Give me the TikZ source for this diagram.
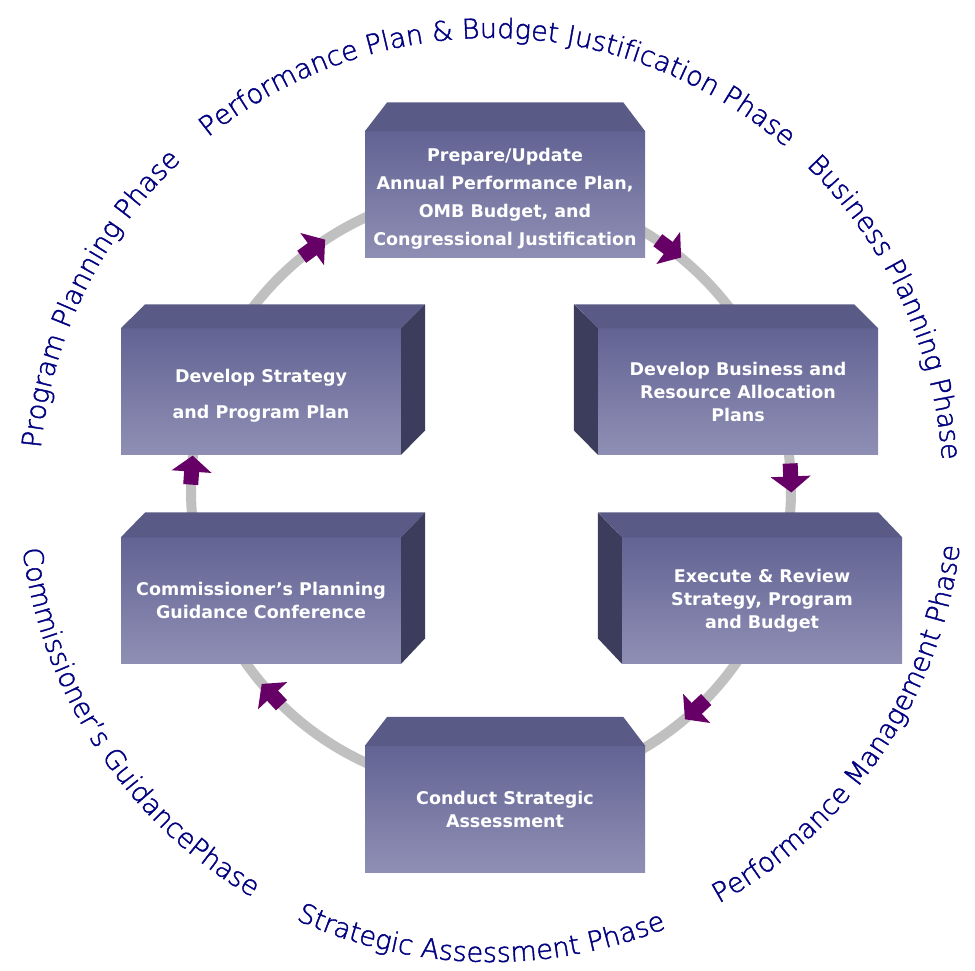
\documentclass[tikz,border=0pt]{standalone}
\usepackage{fontspec}
\usetikzlibrary{decorations.text}
\newfontfamily\arcfont[FakeBold=1.6]{DejaVu Sans ExtraLight}
\newfontfamily\boxfont{DejaVu Sans}
\definecolor{ringgray}{HTML}{C0C0C0}
\definecolor{arrowpurple}{HTML}{660066}
\definecolor{facetop}{HTML}{5A5A86}
\definecolor{faceside}{HTML}{3C3C5C}
\definecolor{gradtop}{HTML}{636394}
\definecolor{gradbot}{HTML}{8F8FB5}
\definecolor{phasenavy}{HTML}{000080}
\begin{document}
\begin{tikzpicture}[x=1pt,y=1pt,
  front/.style={minimum width=280pt, minimum height=126pt, inner sep=0pt,
    top color=gradtop, bottom color=gradbot, draw=none, text=white,
    font=\boxfont\bfseries\fontsize{17.5}{23}\selectfont, align=center},
  topface/.style={fill=facetop},
  sideface/.style={fill=faceside},
  ring/.style={draw=ringgray, line width=10pt},
  flowarrow/.style={fill=arrowpurple},
  phase/.style={decorate, decoration={text along path, text align=center,
    text={|\arcfont\fontsize{27}{27}\selectfont\color{phasenavy}|#1}}}]
\useasboundingbox (0,0) rectangle (975,970);
\coordinate (C) at (491,480);
% ring
\draw[ring] (C) circle[radius=300];
% boxes
\node[front] (top) at (505,775.5) {\rule{0pt}{8pt}\\[-10pt]Prepare/Update\\[5pt]Annual Performance Plan,\\[5pt]OMB Budget, and\\[5pt]Congressional Justification};
\fill[topface] (top.north west) -- (top.north east) -- ++(-22,29) -- ++(-236,0) -- cycle;

\node[front] (rt) at (738,578.5) {Develop Business and\\Resource Allocation\\Plans};
\fill[topface] (rt.north west) -- (rt.north east) -- ++(-24,24) -- ++(-280,0) -- cycle;
\fill[sideface] (rt.north west) -- ++(-24,24) -- ++(0,-126) -- (rt.south west) -- cycle;

\node[front] (rb) at (762,369.5) {Execute \& Review\\Strategy, Program\\and Budget};
\fill[topface] (rb.north west) -- (rb.north east) -- ++(-24,25) -- ++(-280,0) -- cycle;
\fill[sideface] (rb.north west) -- ++(-24,25) -- ++(0,-126) -- (rb.south west) -- cycle;

\node[front] (lt) at (261,578.5) {\rule{0pt}{8pt}\\[-10pt]Develop Strategy\\[13pt]and Program Plan};
\fill[topface] (lt.north west) -- (lt.north east) -- ++(24,24) -- ++(-280,0) -- cycle;
\fill[sideface] (lt.north east) -- ++(24,24) -- ++(0,-126) -- (lt.south east) -- cycle;

\node[front] (lb) at (261,369.5) {Commissioner’s Planning\\Guidance Conference};
\fill[topface] (lb.north west) -- (lb.north east) -- ++(24,25) -- ++(-280,0) -- cycle;
\fill[sideface] (lb.north east) -- ++(24,25) -- ++(0,-126) -- (lb.south east) -- cycle;

\node[front] (bot) at (505,161) {Conduct Strategic\\Assessment};
\fill[topface] (bot.north west) -- (bot.north east) -- ++(-22,29) -- ++(-236,0) -- cycle;
% arrows on the ring
\foreach \ang [count=\i] in {126.3,53.5,2.3,-47,223,176.2} {
  \coordinate (arr\i) at ([shift={(\ang:300)}]C);
  \fill[flowarrow, shift={(arr\i)}, rotate=\ang-90]
    (14.5,0) -- (-1.5,20) -- (-1.5,7.5) -- (-14.5,7.5) -- (-14.5,-7.5) -- (-1.5,-7.5) -- (-1.5,-20) -- cycle;
}
% phase labels
\path[phase={Performance Plan {\&} Budget Justification Phase}] ([shift={(149:452)}]C) arc[start angle=149, end angle=29, radius=452];
\path[phase={Business Planning Phase}] ([shift={(64.8:452)}]C) arc[start angle=64.8, end angle=-15.2, radius=452];
\path[phase={Program Planning Phase}] ([shift={(194:452)}]C) arc[start angle=194, end angle=114, radius=452];
\path[phase={Performance Management Phase}] ([shift={(-74:472)}]C) arc[start angle=-74, end angle=6, radius=472];
\path[phase={Strategic Assessment Phase}] ([shift={(-131.3:472)}]C) arc[start angle=-131.3, end angle=-51.3, radius=472];
\path[phase={Commissioner’s GuidancePhase}] ([shift={(173.4:472)}]C) arc[start angle=173.4, end angle=253.4, radius=472];
\end{tikzpicture}
\end{document}
